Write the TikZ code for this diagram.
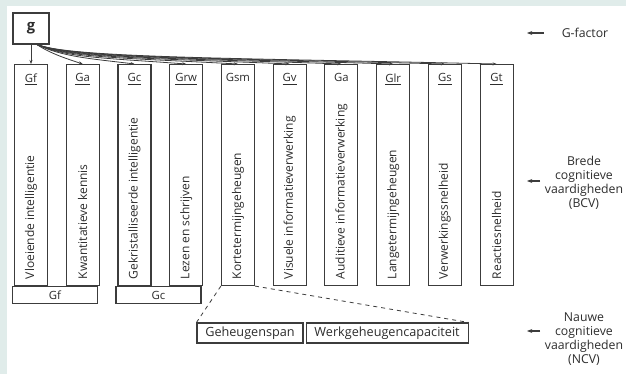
\documentclass[tikz,border=0pt]{standalone}
\usepackage{fontspec}
\setmainfont{Open Sans}
\usepackage{tikz}
\usetikzlibrary{arrows.meta,positioning}
\definecolor{bgteal}{RGB}{224,236,234}
\definecolor{linegray}{RGB}{60,60,60}
\definecolor{textgray}{RGB}{45,45,45}

\begin{document}
\begin{tikzpicture}[x=0.75pt, y=-0.75pt,
      node distance=13.25pt,
      vbox/.style={draw=linegray, line width=0.8pt,
                   minimum width=24.75pt, minimum height=165.75pt, inner sep=0pt},
      abbr/.style={font=\fontsize{8.5}{10}\selectfont, text=textgray, inner sep=1pt},
      vtext/.style={font=\fontsize{9}{10}\selectfont, text=textgray,
                    rotate=90, anchor=west, inner sep=0pt},
      grp/.style={draw=linegray, line width=0.8pt, anchor=north west,
                  minimum width=63.75pt, minimum height=12.75pt, inner sep=0pt,
                  font=\fontsize{8.5}{10}\selectfont, text=textgray},
      ncv/.style={draw=linegray, line width=0.8pt, minimum height=15pt,
                  inner sep=0pt, font=\fontsize{9.5}{11}\selectfont, text=textgray},
      side/.style={align=center, font=\fontsize{9.2}{10.5}\selectfont, text=textgray},
      garrow/.style={draw=linegray, line width=0.6pt, -{Stealth[length=3pt]}},
      sarrow/.style={draw=linegray, line width=0.9pt, -{Stealth[length=4pt]}}]
    \fill[bgteal] (0,0) rectangle (626,374);
    \fill[white] (7,6) rectangle (626,374);
    \useasboundingbox (0,0) rectangle (626,374);

    % g-factor
    \node[draw=linegray, line width=0.8pt, minimum width=27pt, minimum height=23.25pt,
          font=\fontsize{11}{13}\selectfont\bfseries, text=textgray] (g) at (31,28.5) {g};
    \coordinate (groot) at (36,44);

    % brede cognitieve vaardigheden
    \node[vbox, anchor=north] (gf) at (31,64) {};
    \node[vbox, right=of gf] (ga) {};
    \node[vbox, right=of ga] (gc) {};
    \node[vbox, right=of gc] (grw) {};
    \node[vbox, right=of grw] (gsm) {};
    \node[vbox, right=of gsm] (gv) {};
    \node[vbox, right=of gv] (gaud) {};
    \node[vbox, right=of gaud] (glr) {};
    \node[vbox, right=of glr] (gs) {};
    \node[vbox, right=of gs] (gt) {};

    \node[abbr, below=6pt of gf.north] (gf-l) {\underline{Gf}};
    \node[abbr, below=6pt of ga.north] (ga-l) {\underline{Ga}};
    \node[abbr, below=6pt of gc.north] (gc-l) {\underline{Gc}};
    \node[abbr, below=6pt of grw.north] (grw-l) {\underline{Grw}};
    \node[abbr, below=6pt of gsm.north] (gsm-l) {Gsm};
    \node[abbr, below=6pt of gv.north] (gv-l) {\underline{Gv}};
    \node[abbr, below=6pt of gaud.north] (gaud-l) {Ga};
    \node[abbr, below=6pt of glr.north] (glr-l) {\underline{Glr}};
    \node[abbr, below=6pt of gs.north] (gs-l) {\underline{Gs}};
    \node[abbr, below=6pt of gt.north] (gt-l) {\underline{Gt}};

    \node[vtext] (gf-t) at ([yshift=5pt]gf.south) {Vloeiende intelligentie};
    \node[vtext] (ga-t) at ([yshift=5pt]ga.south) {Kwantitatieve kennis};
    \node[vtext] (gc-t) at ([yshift=5pt]gc.south) {Gekristalliseerde intelligentie};
    \node[vtext] (grw-t) at ([yshift=5pt]grw.south) {Lezen en schrijven};
    \node[vtext] (gsm-t) at ([yshift=5pt]gsm.south) {Kortetermijngeheugen};
    \node[vtext] (gv-t) at ([yshift=5pt]gv.south) {Visuele informatieverwerking};
    \node[vtext] (gaud-t) at ([yshift=5pt]gaud.south) {Auditieve informatieverwerking};
    \node[vtext] (glr-t) at ([yshift=5pt]glr.south) {Langetermijngeheugen};
    \node[vtext] (gs-t) at ([yshift=5pt]gs.south) {Verwerkingssnelheid};
    \node[vtext] (gt-t) at ([yshift=5pt]gt.south) {Reactiesnelheid};

    % groepen
    \node[grp] (gf-grp) at ([xshift=-1.5pt]gf.south west) {Gf};
    \node[grp] (gc-grp) at ([xshift=-1.5pt]gc.south west) {Gc};

    % nauwe cognitieve vaardigheden
    \node[ncv, minimum width=79.5pt] (span) at (250,333) {Geheugenspan};
    \node[ncv, minimum width=121.5pt, right=1.5pt of span] (werk) {Werkgeheugencapaciteit};
    \draw[linegray, dashed, line width=0.6pt] (gsm.south west) -- (span.north west);
    \draw[linegray, dashed, line width=0.6pt] (gsm.south east) -- (werk.north east);

    % pijlen vanuit g
    \draw[garrow] (g.south) -- (gf.north);
    \draw[garrow] (groot) .. controls +(15,10) and +(-15,-5) .. (ga.north);
    \draw[garrow] (groot) .. controls +(25,13) and +(-40,-5) .. (gc.north);
    \draw[garrow] (groot) .. controls +(30,14) and +(-80,-6) .. (grw.north);
    \draw[garrow] (groot) .. controls +(30,14) and +(-110,-6) .. (gsm.north);
    \draw[garrow] (groot) .. controls +(30,14) and +(-140,-6) .. (gv.north);
    \draw[garrow] (groot) .. controls +(30,14) and +(-170,-6) .. (gaud.north);
    \draw[garrow] (groot) .. controls +(30,14) and +(-200,-6) .. (glr.north);
    \draw[garrow] (groot) .. controls +(30,14) and +(-230,-6) .. (gs.north);
    \draw[garrow] (groot) .. controls +(30,14) and +(-260,-6) .. (gt.north);

    % legenda
    \node[side] (gfac) at (585,33) {G-factor};
    \node[side] (bcv) at (584,183) {Brede\\cognitieve\\vaardigheden\\(BCV)};
    \node[side] (ncvl) at (584,339) {Nauwe\\cognitieve\\vaardigheden\\(NCV)};
    \coordinate (gfac-tip) at (527,33);
    \coordinate (bcv-tip) at (527,181);
    \coordinate (ncvl-tip) at (527,331);
    \draw[sarrow, shorten <=10pt] (gfac.west) -- (gfac-tip);
    \draw[sarrow] (bcv.west |- bcv-tip) -- (bcv-tip);
    \draw[sarrow] (ncvl.west |- ncvl-tip) -- (ncvl-tip);
  \end{tikzpicture}
\end{document}
